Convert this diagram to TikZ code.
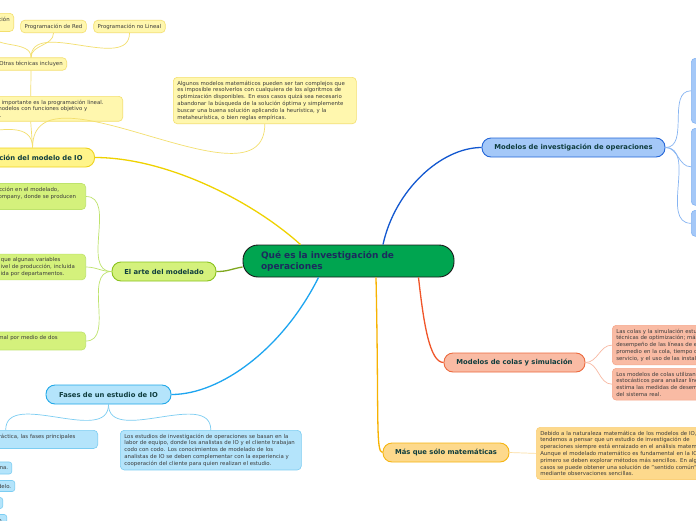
\documentclass[tikz,border=0pt]{standalone}
\usepackage{fontspec}
\setmainfont{DejaVu Sans}
\usetikzlibrary{positioning}

\definecolor{rootfill}{HTML}{00A550}
\definecolor{roottext}{HTML}{1C2B5E}
\definecolor{titletext}{HTML}{0F3D3E}
\definecolor{leaftext}{HTML}{3C3C3C}
\definecolor{bluefill}{HTML}{A4C8F8}\definecolor{bluedraw}{HTML}{2466D8}\definecolor{blueline}{HTML}{1358D0}\definecolor{bluesoft}{HTML}{86B4F2}
\definecolor{redfill}{HTML}{F9BBA4}\definecolor{reddraw}{HTML}{EC6A3E}\definecolor{redline}{HTML}{F0562A}\definecolor{redsoft}{HTML}{F6A88C}
\definecolor{orafill}{HTML}{FDD98C}\definecolor{oradraw}{HTML}{F6B512}\definecolor{oraline}{HTML}{F7B200}\definecolor{orasoft}{HTML}{FBD07A}
\definecolor{cyafill}{HTML}{B4E4FB}\definecolor{cyadraw}{HTML}{20A8E8}\definecolor{cyaline}{HTML}{1DA5F0}\definecolor{cyasoft}{HTML}{7CCDF2}
\definecolor{limfill}{HTML}{D4F17C}\definecolor{limdraw}{HTML}{8AC21E}\definecolor{limline}{HTML}{80A820}\definecolor{limsoft}{HTML}{BEE36C}
\definecolor{yelfill}{HTML}{FFF48A}\definecolor{yeldraw}{HTML}{EED21E}\definecolor{yelline}{HTML}{EFD200}\definecolor{yelsoft}{HTML}{F3DF6E}\definecolor{yelleaf}{HTML}{FFF7AE}

\newcommand\leaffont{\fontsize{5.4}{6.8}\selectfont}
\newcommand\branchfont{\fontsize{6.8}{8}\selectfont\bfseries}
\newcommand\rootfont{\fontsize{9}{11}\selectfont\bfseries}

\begin{document}
\begin{tikzpicture}[x=1pt, y=-1pt]
    \tikzstyle{root}=[draw=black!90, fill=rootfill, line width=0.9pt, rounded corners=15pt, text width=175pt, align=left, minimum width=211pt, minimum height=32pt, font=\rootfont, text=roottext]
    \tikzstyle{branch}=[draw, rounded corners=9pt, line width=0.9pt, minimum height=19pt, inner xsep=0pt, font=\branchfont, text=titletext]
    \tikzstyle{leaf}=[draw, rounded corners=4pt, line width=0.6pt, text width=176pt, align=left, inner xsep=4pt, inner ysep=3.5pt, font=\leaffont, text=leaftext]
    \tikzstyle{tech}=[draw=yelsoft, fill=yelleaf, rounded corners=4pt, line width=0.6pt, align=left, inner xsep=4pt, inner ysep=3.5pt, font=\leaffont, text=leaftext]
    \tikzstyle{faseitem}=[draw=cyasoft, fill=cyafill, rounded corners=2.5pt, line width=0.6pt, inner xsep=3.5pt, inner ysep=3.3pt, font=\leaffont, text=leaftext]
    \tikzstyle{link}=[line width=1.3pt]
    \tikzstyle{twig}=[line width=0.7pt]

      \useasboundingbox (0,0) rectangle (696,520);
      \fill[white] (0,0) rectangle (696,520);
      \clip (0,0) rectangle (696,520);

      % centre and main branches
      \node[root] (root) at (348.5,261) {Qué es la investigación de\\operaciones};
      \node[branch, fill=bluefill, draw=bluedraw, minimum width=183pt] (mio) at (573.5,147.5) {Modelos de investigación de operaciones};
      \node[branch, fill=redfill, draw=reddraw, minimum width=141pt] (colas) at (514.5,362.5) {Modelos de colas y simulación};
      \node[branch, fill=orafill, draw=oradraw, minimum width=126pt] (mas) at (446,452.5) {Más que sólo matemáticas};
      \node[branch, fill=cyafill, draw=cyadraw, minimum width=125pt] (fases) at (108.5,394.5) {Fases de un estudio de IO};
      \node[branch, fill=limfill, draw=limdraw, minimum width=104pt] (arte) at (164,271.5) {El arte del modelado};
      \node[branch, fill=yelfill, draw=yeldraw, inner xsep=12pt, anchor=east] (sol) at (95,157.5) {Solución del modelo de IO};

      % modelos de IO
      \node[leaf, fill=bluefill, draw=bluesoft, minimum height=65pt, anchor=north west] (mioA) at (691,58) {};
      \node[leaf, fill=bluefill, draw=bluesoft, minimum height=77pt, anchor=north west] (mioB) at (691,128) {};
      \node[leaf, fill=bluefill, draw=bluesoft, minimum height=26pt, anchor=north west] (mioC) at (691,210) {};

      % colas y simulacion
      \node[leaf, fill=redfill, draw=redsoft, anchor=north west] (colasA) at (612,325) {Las colas y la simulación estudian las líneas de espera. No son\\técnicas de optimización; más bien determinan medidas de\\desempeño de las líneas de espera, como tiempo de espera\\promedio en la cola, tiempo de espera promedio para el\\servicio, y el uso de las instalaciones de servicio.};
      \node[leaf, fill=redfill, draw=redsoft, anchor=north west] (colasB) at (612,368) {Los modelos de colas utilizan modelos probabilísticos y\\estocásticos para analizar líneas de espera, y la simulación\\estima las medidas de desempeño al imitar el comportamiento\\del sistema real.};

      % mas que matematicas
      \node[leaf, fill=orafill, draw=orasoft, anchor=north west] (masA) at (536,427) {Debido a la naturaleza matemática de los modelos de IO,\\tendemos a pensar que un estudio de investigación de\\operaciones siempre está enraizado en el análisis matemático.\\Aunque el modelado matemático es fundamental en la IO,\\primero se deben explorar métodos más sencillos. En algunos\\casos se puede obtener una solución de "sentido común"\\mediante observaciones sencillas.};

      % fases
      \node[leaf, fill=cyafill, draw=cyasoft, anchor=north east] (prac) at (98,430) {Cuando se aplica la IO en la práctica, las fases principales\\son:};
      \node[leaf, fill=cyafill, draw=cyasoft, text width=173pt, anchor=north west] (equipo) at (120,430) {Los estudios de investigación de operaciones se basan en la\\labor de equipo, donde los analistas de IO y el cliente trabajan\\codo con codo. Los conocimientos de modelado de los\\analistas de IO se deben complementar con la experiencia y\\cooperación del cliente para quien realizan el estudio.};
      \node[faseitem, anchor=east] (f1) at (12,468) {Definición del problema.};
      \node[faseitem, anchor=east] (f2) at (15,486) {Construcción del modelo.};
      \node[faseitem, anchor=east] (f3) at (3,503) {Solución del modelo.};
      \node[faseitem, anchor=east] (f4) at (7,520) {Validación del modelo.};

      % arte del modelado
      \node[leaf, fill=limfill, draw=limsoft, anchor=east] (arteA) at (86,196.5) {Para ilustrar el concepto de abstracción en el modelado,\\considere la Tyko Manufacturing Company, donde se producen\\varios recipientes.};
      \node[leaf, fill=limfill, draw=limsoft, anchor=east] (arteB) at (86,267) {Para simplificar, el modelo supone que algunas variables\\determinan de manera directa el nivel de producción, incluida\\la capacidad de la producción medida por departamentos.};
      \node[leaf, fill=limfill, draw=limsoft, anchor=east] (arteC) at (86,341) {El modelo se expresa de modo formal por medio de dos\\ecuaciones.};

      % solucion del modelo
      \node[leaf, fill=yelleaf, draw=yelsoft, anchor=north east] (imp) at (123,96) {La técnica de IO más importante es la programación lineal.\\Está diseñada para modelos con funciones objetivo y\\restricciones lineales.};
      \node[leaf, fill=yelleaf, draw=yelsoft, text width=175pt, anchor=north west] (alg) at (173,77) {Algunos modelos matemáticos pueden ser tan complejos que\\es imposible resolverlos con cualquiera de los algoritmos de\\optimización disponibles. En esos casos quizá sea necesario\\abandonar la búsqueda de la solución óptima y simplemente\\buscar una buena solución aplicando la heurística, y la\\metaheurística, o bien reglas empíricas.};
      \node[tech, anchor=east] (otras) at (67,64) {Otras técnicas incluyen};
      \node[tech, anchor=north east] (progD) at (14,13) {Programación\\Dinámica};
      \node[tech] (progR) at (53.5,26.5) {Programación de Red};
      \node[tech] (progNL) at (129.5,26.5) {Programación no Lineal};
      \coordinate (solX) at (-90,121);

      % main connectors
      \draw[link, blueline] ([xshift=34.5pt]root.north) .. controls +(12,-55) and +(-40,0) .. (mio.west);
      \draw[link, redline] ([xshift=70pt]root.south) .. controls +(5,45) and +(-14,0) .. (colas.west);
      \draw[link, oraline] ([xshift=27.5pt]root.south) .. controls +(3,140) and +(-7,0) .. (mas.west);
      \draw[link, cyaline] ([xshift=-30pt]root.south) .. controls +(-35,70) and +(50,0) .. (fases.east);
      \draw[link, limline] ([yshift=-6pt]root.west) .. controls +(-12,2) and +(12,0) .. (arte.east);
      \draw[link, yelline] ([xshift=-48pt]root.north) .. controls +(-50,-45) and +(70,0) .. (sol.east);

      % child connectors
      \path[twig, draw=bluesoft]
        (mio.east) edge[out=0, in=180] (mioA.west)
        (mio.east) edge[out=0, in=180] (mioB.west)
        (mio.east) edge[out=0, in=180] (mioC.west);
      \path[twig, draw=redsoft!80]
        (colas.east) edge[out=0, in=180] (colasA.west)
        (colas.east) edge[out=0, in=180] (colasB.west);
      \draw[twig, orasoft!70] (mas.east) -- (masA.west);
      \path[twig, draw=cyasoft]
        (fases.south) edge[out=-90, in=90] (prac.north)
        (fases.south) edge[out=-90, in=90] (equipo.north);
      \path[twig, draw=limsoft]
        (arte.west) edge[out=180, in=0] (arteA.east)
        (arte.west) edge[out=180, in=0] (arteB.east)
        (arte.west) edge[out=180, in=0] (arteC.east);
      \path[twig, draw=yelsoft]
        (sol.north) edge (imp.south)
        (sol.north) edge[out=90, in=-90] (alg.south)
        (sol.north) edge[out=90, in=-90] (solX)
        (imp.north) edge (otras.south)
        (otras.north) edge[out=90, in=-90] (progD.south)
        (otras.north) edge[out=90, in=-90] (progR.south)
        (otras.north) edge[out=90, in=-90] (progNL.south);
    \end{tikzpicture}
\end{document}
